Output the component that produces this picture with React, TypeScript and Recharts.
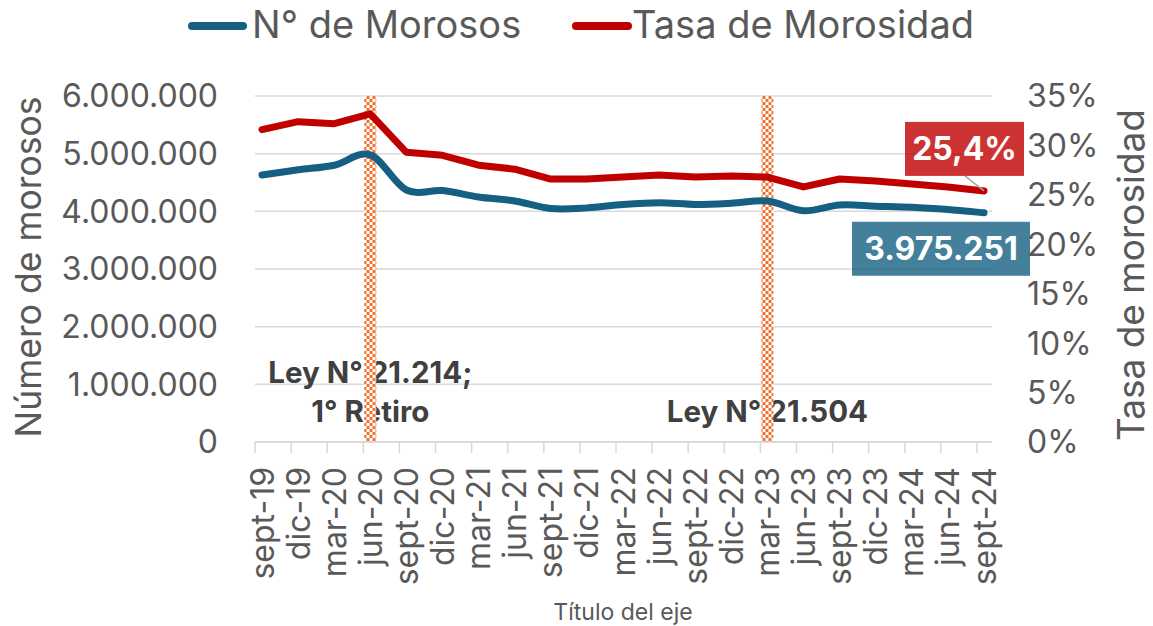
import React from "react";
import {
  LineChart,
  Line,
  XAxis,
  YAxis,
  CartesianGrid,
  ReferenceLine,
  Legend,
} from "recharts";

const periods = [
  "sept-19", "dic-19", "mar-20", "jun-20", "sept-20", "dic-20", "mar-21",
  "jun-21", "sept-21", "dic-21", "mar-22", "jun-22", "sept-22", "dic-22",
  "mar-23", "jun-23", "sept-23", "dic-23", "mar-24", "jun-24", "sept-24",
];

// N° de morosos (left axis)
const morosos = [
  4630000, 4720000, 4800000, 4980000, 4370000, 4360000, 4250000,
  4180000, 4050000, 4060000, 4120000, 4150000, 4120000, 4140000,
  4180000, 4010000, 4110000, 4090000, 4070000, 4030000, 3975251,
];

// Tasa de morosidad, % (right axis)
const tasa = [
  31.6, 32.4, 32.2, 33.2, 29.3, 29.0, 28.0,
  27.6, 26.6, 26.6, 26.8, 27.0, 26.8, 26.9,
  26.8, 25.8, 26.6, 26.4, 26.1, 25.8, 25.4,
];

const leftTicks = [0, 1000000, 2000000, 3000000, 4000000, 5000000, 6000000];
const rightTicks = [0, 5, 10, 15, 20, 25, 30, 35];

const data = periods.map((p, i) => ({ periodo: p, morosos: morosos[i], tasa: tasa[i] }));

const FONT = "Inter, 'Noto Sans', sans-serif";
const GRAY = "#595959";
const BLUE = "#156082";
const RED = "#C00000";
const ORANGE = "#EE7330";

const fmtMiles = (v: number) => String(Math.round(v)).replace(/\B(?=(\d{3})+(?!\d))/g, ".");
const fmtPct = (v: number) => `${v}%`;

// smoothed line like Excel's "smoothed line" (Catmull-Rom through the points)
const smoothCurve = (context: any) => {
  let pts: number[][] = [];
  return {
    areaStart() {},
    areaEnd() {},
    lineStart() {
      pts = [];
    },
    point(x: number, y: number) {
      pts.push([+x, +y]);
    },
    lineEnd() {
      if (!pts.length) return;
      context.moveTo(pts[0][0], pts[0][1]);
      for (let i = 0; i < pts.length - 1; i++) {
        const p0 = pts[i - 1] || pts[i];
        const p1 = pts[i];
        const p2 = pts[i + 1];
        const p3 = pts[i + 2] || p2;
        context.bezierCurveTo(
          p1[0] + (p2[0] - p0[0]) / 6,
          p1[1] + (p2[1] - p0[1]) / 6,
          p2[0] - (p3[0] - p1[0]) / 6,
          p2[1] - (p3[1] - p1[1]) / 6,
          p2[0],
          p2[1]
        );
      }
    },
  };
};

const XTick = (props: any) => {
  const { x, y, payload } = props;
  return (
    <g transform={`translate(${x},${y})`}>
      <line x1={-7} x2={-7} y1={0} y2={11} stroke="#D9D9D9" strokeWidth={1.5} />
      <text
        transform="rotate(-90)"
        x={-25}
        y={0}
        dy="0.36em"
        textAnchor="end"
        fontSize={32}
        fontFamily={FONT}
        fill={GRAY}
      >
        {payload.value}
      </text>
    </g>
  );
};

const LegendContent = () => (
  <div style={{ position: "relative", width: 1153, height: 52, fontFamily: FONT }}>
    <div style={{ position: "absolute", left: 188, top: 22, width: 59, height: 8, borderRadius: 4, background: BLUE }} />
    <span style={{ position: "absolute", left: 252, top: 1, fontSize: 38, color: GRAY, whiteSpace: "nowrap", lineHeight: "46px" }}>
      N° de Morosos
    </span>
    <div style={{ position: "absolute", left: 572, top: 22, width: 60, height: 8, borderRadius: 4, background: RED }} />
    <span style={{ position: "absolute", left: 632, top: 1, fontSize: 38, color: GRAY, whiteSpace: "nowrap", lineHeight: "46px" }}>
      Tasa de Morosidad
    </span>
  </div>
);

const lastIndex = periods.length - 1;

const tasaLabel = (props: any) => {
  const { x, y, index, value } = props;
  if (index !== lastIndex) return null;
  return (
    <g>
      <line x1={x - 19} y1={y - 15} x2={x} y2={y} stroke="#A6A6A6" strokeWidth={1.5} />
      <rect x={x - 79} y={y - 69} width={119} height={54} fill={RED} fillOpacity={0.8} />
      <text
        x={x - 19.5}
        y={y - 42}
        dy="0.36em"
        textAnchor="middle"
        fontSize={32}
        fontWeight={700}
        fontFamily={FONT}
        fill="#FFFFFF"
      >
        {String(value).replace(".", ",") + "%"}
      </text>
    </g>
  );
};

const morososLabel = (props: any) => {
  const { x, y, index, value } = props;
  if (index !== lastIndex) return null;
  return (
    <g>
      <rect x={x - 132} y={y + 9} width={178} height={54} fill={BLUE} fillOpacity={0.8} />
      <text
        x={x - 43}
        y={y + 36}
        dy="0.36em"
        textAnchor="middle"
        fontSize={32}
        fontWeight={700}
        fontFamily={FONT}
        fill="#FFFFFF"
      >
        {fmtMiles(value)}
      </text>
    </g>
  );
};

const annotation = (lines: { text: string; baseline: number }[]) => (props: any) => {
  const vb = props.viewBox || {};
  return (
    <g>
      {lines.map((l) => (
        <text
          key={l.text}
          x={vb.x}
          y={l.baseline}
          textAnchor="middle"
          fontSize={29.5}
          fontWeight={700}
          fontFamily={FONT}
          fill="#404040"
        >
          {l.text}
        </text>
      ))}
    </g>
  );
};

export default function App() {
  return (
    <div style={{ position: "absolute", left: 0, top: 0, width: 1153, height: 626, background: "#fff" }}>
      <LineChart
        width={1153}
        height={626}
        data={data}
        margin={{ top: 96, right: 0, bottom: 0, left: 0 }}
        style={{ fontFamily: FONT }}
      >
        <defs>
          <pattern id="checker" patternUnits="userSpaceOnUse" width={6} height={6} x={0.5} y={0}>
            <rect width={6} height={6} fill="#FFFFFF" />
            <rect x={0} y={0} width={3} height={3} fill={ORANGE} />
            <rect x={3} y={3} width={3} height={3} fill={ORANGE} />
          </pattern>
        </defs>
        <CartesianGrid yAxisId="left" vertical={false} stroke="#D9D9D9" strokeWidth={1.5} />
        <XAxis
          dataKey="periodo"
          scale="point"
          padding={{ left: 7, right: 8 }}
          height={184}
          interval={0}
          tickSize={0}
          tickMargin={0}
          tickLine={false}
          axisLine={{ stroke: "#D9D9D9", strokeWidth: 1.5 }}
          tick={<XTick />}
          label={{
            content: () => (
              <text x={623} y={620} textAnchor="middle" fontSize={23} fontFamily={FONT} fill={GRAY}>
                Título del eje
              </text>
            ),
          }}
        />
        <YAxis
          yAxisId="left"
          orientation="left"
          width={255}
          domain={[0, 6000000]}
          ticks={leftTicks}
          tickFormatter={fmtMiles}
          axisLine={false}
          tickLine={false}
          tickSize={0}
          tickMargin={37}
          tick={{ fontSize: 32, fill: GRAY, fontFamily: FONT }}
          label={{
            content: () => (
              <text
                x={28}
                y={267}
                transform="rotate(-90, 28, 267)"
                textAnchor="middle"
                dominantBaseline="central"
                fontSize={35.5}
                fontFamily={FONT}
                fill={GRAY}
              >
                Número de morosos
              </text>
            ),
          }}
        />
        <YAxis
          yAxisId="right"
          orientation="right"
          width={161}
          domain={[0, 35]}
          ticks={rightTicks}
          tickFormatter={fmtPct}
          axisLine={false}
          tickLine={false}
          tickSize={0}
          tickMargin={35}
          tick={{ fontSize: 32, fill: GRAY, fontFamily: FONT, textAnchor: "start" }}
          label={{
            content: () => (
              <text
                x={1130}
                y={275}
                transform="rotate(-90, 1130, 275)"
                textAnchor="middle"
                dominantBaseline="central"
                fontSize={37}
                fontFamily={FONT}
                fill={GRAY}
              >
                Tasa de morosidad
              </text>
            ),
          }}
        />
        <Legend
          layout="horizontal"
          verticalAlign="middle"
          align="center"
          wrapperStyle={{ top: 0, left: 0, width: 1153, height: 52 }}
          content={<LegendContent />}
        />
        <ReferenceLine
          yAxisId="left"
          x="jun-20"
          stroke="none"
          label={annotation([
            { text: "Ley N° 21.214;", baseline: 383 },
            { text: "1° Retiro", baseline: 422 },
          ])}
        />
        <ReferenceLine
          yAxisId="left"
          x="mar-23"
          stroke="none"
          label={annotation([{ text: "Ley N° 21.504", baseline: 422 }])}
        />
        <ReferenceLine yAxisId="left" x="jun-20" stroke="url(#checker)" strokeWidth={12} />
        <ReferenceLine yAxisId="left" x="mar-23" stroke="url(#checker)" strokeWidth={12} />
        <Line
          yAxisId="left"
          type={smoothCurve as any}
          dataKey="morosos"
          stroke={BLUE}
          strokeWidth={7}
          strokeLinecap="round"
          strokeLinejoin="round"
          dot={false}
          activeDot={false}
          isAnimationActive={false}
          label={morososLabel}
        />
        <Line
          yAxisId="right"
          type="linear"
          dataKey="tasa"
          stroke={RED}
          strokeWidth={7}
          strokeLinecap="round"
          strokeLinejoin="round"
          dot={false}
          activeDot={false}
          isAnimationActive={false}
          label={tasaLabel}
        />
      </LineChart>
    </div>
  );
}
